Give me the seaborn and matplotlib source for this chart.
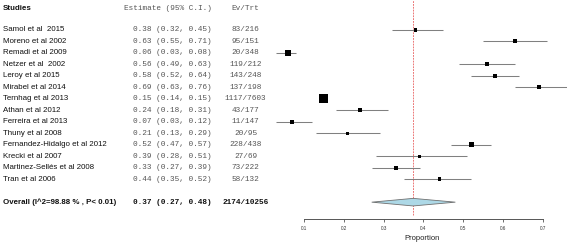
import numpy as np
import matplotlib
matplotlib.use("Agg")
import matplotlib.pyplot as plt
from matplotlib.transforms import blended_transform_factory
import seaborn as sns

# Study-level data
studies = ["Samol et al  2015", "Moreno et al 2002", "Remadi et al 2009", "Netzer et al  2002",
           "Leroy et al 2015", "Mirabel et al 2014", "Ternhag et al 2013", "Athan et al 2012",
           "Ferreira et al 2013", "Thuny et al 2008", "Fernandez-Hidalgo et al 2012",
           "Krecki et al 2007", "Martinez-Sellés et al 2008", "Tran et al 2006"]
estimate = [0.38, 0.63, 0.06, 0.56, 0.58, 0.69, 0.15, 0.24, 0.07, 0.21, 0.52, 0.39, 0.33, 0.44]
ci_low = [0.32, 0.55, 0.03, 0.49, 0.52, 0.63, 0.14, 0.18, 0.03, 0.13, 0.47, 0.28, 0.27, 0.35]
ci_high = [0.45, 0.71, 0.08, 0.63, 0.64, 0.76, 0.15, 0.31, 0.12, 0.29, 0.57, 0.51, 0.39, 0.52]
events = [83, 95, 20, 119, 143, 137, 1117, 43, 11, 20, 228, 27, 73, 58]
totals = [216, 151, 348, 212, 248, 198, 7603, 177, 147, 95, 438, 69, 222, 132]
# relative box weights (box area), estimated from square sizes
weights = [13.7, 13.7, 36, 13.7, 13.7, 13.7, 81, 13.7, 18.5, 10.9, 22, 9, 16, 13.7]

overall_est = 0.374
overall_low = 0.27
overall_high = 0.48
overall_label = "Overall (I^2=98.88 % , P< 0.01)"
overall_ev = 2174
overall_tot = 10256

x_ticks = [0.1, 0.2, 0.3, 0.4, 0.5, 0.6, 0.7]

sns.set_style("white")
plt.rcParams["font.family"] = ["Liberation Sans", "DejaVu Sans"]

W, H = 567, 244
fig = plt.figure(figsize=(W / 100, H / 100), dpi=100)
ax = fig.add_axes([270 / W, (H - 219.3) / H, 297 / W, 219.3 / H])
ax.set_xlim(0.01464, 0.76031)
ax.set_ylim(16.49, -2.58)

rows = np.arange(len(studies))
df = {"est": estimate, "row": rows, "w": weights}

# CI lines
ax.hlines(rows, ci_low, ci_high, color="#808080", lw=0.75, zorder=1)

# squares (area proportional to weight)
sizes = np.array(weights) / 1.929
sns.scatterplot(x=estimate, y=rows, marker="s", s=sizes, color="black",
                linewidth=0, legend=False, ax=ax, zorder=2)

# overall diamond
dy = 0.33
ax.fill([overall_low, overall_est, overall_high, overall_est],
        [15, 15 - dy, 15, 15 + dy], facecolor="#ADD8E6", edgecolor="#707070",
        lw=0.6, zorder=2)

# reference line
ax.axvline(overall_est, ymin=0.02, ymax=1, color="#E86060", lw=0.6,
           dashes=(2.2, 1.2), zorder=0)

# axis styling
for s in ["top", "left", "right"]:
    ax.spines[s].set_visible(False)
ax.spines["bottom"].set_bounds(0.1, 0.7)
ax.spines["bottom"].set_color("#555555")
ax.spines["bottom"].set_linewidth(0.7)
ax.set_yticks([])
ax.set_xticks(x_ticks)
ax.set_xticklabels([f"{t:.1f}" for t in x_ticks])
ax.tick_params(axis="x", length=2.2, width=0.6, color="#555555",
               labelsize=3.3, pad=2.5, labelcolor="#333333", bottom=True)
fig.text(421.7 / W, 1 - 238.3 / H, "Proportion", ha="center", va="center",
         fontsize=5.5, color="#222222")

# text columns
tr = blended_transform_factory(fig.transFigure, ax.transData)
name_x, est_x, ev_x = 3 / W, 212 / W, 245.5 / W
mono = ["Liberation Mono", "DejaVu Sans Mono"]

ax.text(name_x, -1.8, "Studies", transform=tr, ha="left", va="center",
        fontsize=5.7, fontweight="bold", color="#111111")
ax.text(est_x, -1.8, "Estimate (95% C.I.)", transform=tr, ha="right", va="center",
        fontsize=5.6, family=mono, color="#555555")
ax.text(ev_x, -1.8, "Ev/Trt", transform=tr, ha="center", va="center",
        fontsize=5.6, family=mono, color="#555555")

for i, name in enumerate(studies):
    ax.text(name_x, i, name, transform=tr, ha="left", va="center",
            fontsize=5.7, color="#111111")
    ax.text(est_x, i, f"{estimate[i]:.2f} ({ci_low[i]:.2f}, {ci_high[i]:.2f})",
            transform=tr, ha="right", va="center", fontsize=5.6, family=mono,
            color="#555555")
    ax.text(ev_x, i, f"{events[i]}/{totals[i]}", transform=tr, ha="center",
            va="center", fontsize=5.6, family=mono, color="#555555")

ax.text(name_x, 15, overall_label, transform=tr, ha="left", va="center",
        fontsize=5.7, fontweight="bold", color="#111111")
ax.text(est_x, 15, f"{overall_est:.2f} ({overall_low:.2f}, {overall_high:.2f})",
        transform=tr, ha="right", va="center", fontsize=5.6, family=mono,
        fontweight="bold", color="#111111")
ax.text(ev_x, 15, f"{overall_ev}/{overall_tot}", transform=tr, ha="center",
        va="center", fontsize=5.6, family=mono, fontweight="bold", color="#111111")

fig.savefig("out.png", dpi=100)
